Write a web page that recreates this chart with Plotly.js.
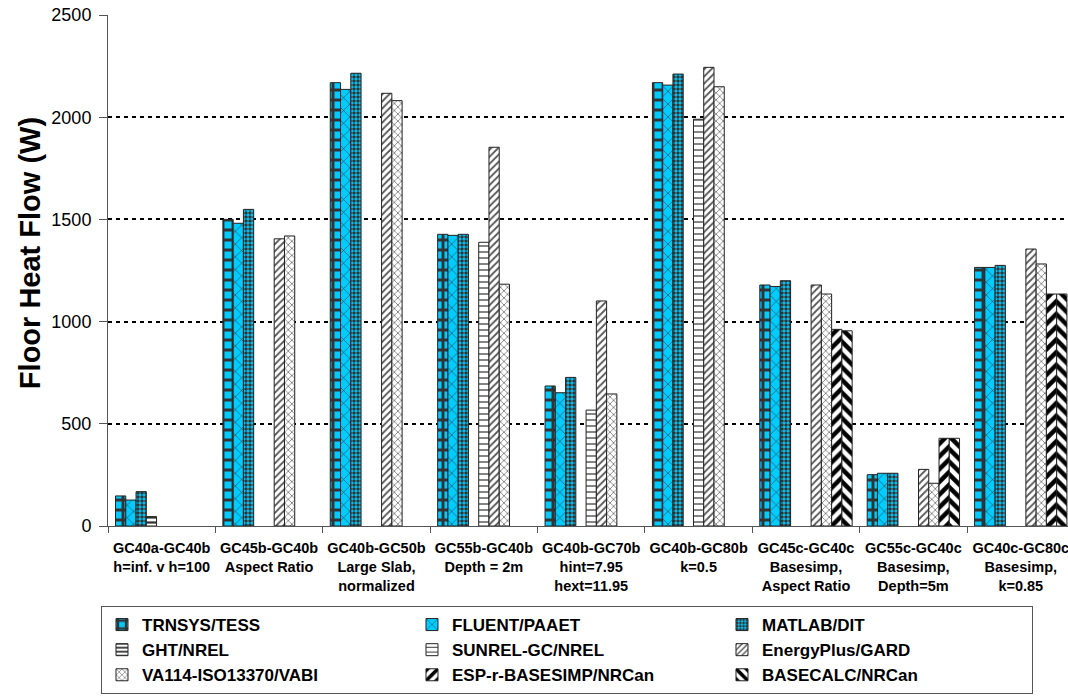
<!DOCTYPE html>
<html>
<head>
<meta charset="utf-8">
<script src="https://cdn.plot.ly/plotly-3.0.1.min.js"></script>
<style>html,body{margin:0;padding:0;background:#fff;}#chart{width:1068px;height:698px;}</style>
</head>
<body>
<div id="chart"></div>
<script>
const categories = [
  "GC40a-GC40b<br>h=inf. v h=100",
  "GC45b-GC40b<br>Aspect Ratio",
  "GC40b-GC50b<br>Large Slab,<br>normalized",
  "GC55b-GC40b<br>Depth = 2m",
  "GC40b-GC70b<br>hint=7.95<br>hext=11.95",
  "GC40b-GC80b<br>k=0.5",
  "GC45c-GC40c<br>Basesimp,<br>Aspect Ratio",
  "GC55c-GC40c<br>Basesimp,<br>Depth=5m",
  "GC40c-GC80c<br>Basesimp,<br>k=0.85"
];
const seriesNames = ["TRNSYS/TESS","FLUENT/PAAET","MATLAB/DIT","GHT/NREL","SUNREL-GC/NREL","EnergyPlus/GARD","VA114-ISO13370/VABI","ESP-r-BASESIMP/NRCan","BASECALC/NRCan"];
const trnsys     = [147, 1500, 2169, 1427, 685, 2169, 1179, 251, 1265];
const fluent     = [127, 1481, 2136, 1422, 652, 2157, 1172, 258, 1265];
const matlab     = [168, 1549, 2215, 1427, 727, 2211, 1200, 258, 1275];
const ght        = [46, null, null, null, null, null, null, null, null];
const sunrel     = [null, null, null, 1388, 567, 1990, null, null, null];
const energyplus = [null, 1405, 2117, 1853, 1101, 2244, 1179, 277, 1355];
const va114      = [null, 1419, 2081, 1183, 646, 2149, 1135, 209, 1282];
const espr       = [null, null, null, null, null, null, 962, 429, 1135];
const basecalc   = [null, null, null, null, null, null, 955, 429, 1135];
const yTicks = [0, 500, 1000, 1500, 2000, 2500];
const yTitle = "Floor Heat Flow (W)";

const cyan = "#00CCFF";
const dark = "#333333";
const styles = [
  {shape: "+", fgcolor: dark, bgcolor: cyan, size: 10, solidity: 0.5},
  {shape: "x", fgcolor: dark, bgcolor: cyan, size: 9, solidity: 0.12},
  {shape: ".", fgcolor: dark, bgcolor: cyan, size: 4, solidity: 0.6},
  {shape: "-", fgcolor: dark, bgcolor: "#ffffff", size: 5, solidity: 0.45},
  {shape: "-", fgcolor: dark, bgcolor: "#ffffff", size: 6, solidity: 0.2},
  {shape: "/", fgcolor: "#555555", bgcolor: "#ffffff", size: 5, solidity: 0.35},
  {shape: "x", fgcolor: "#777777", bgcolor: "#ffffff", size: 5, solidity: 0.3},
  {shape: "/", fgcolor: "#000000", bgcolor: "#ffffff", size: 9, solidity: 0.5},
  {shape: "\\", fgcolor: "#000000", bgcolor: "#ffffff", size: 9, solidity: 0.5}
];
const values = [trnsys, fluent, matlab, ght, sunrel, energyplus, va114, espr, basecalc];

const traces = values.map((v, i) => ({
  type: "bar",
  name: seriesNames[i],
  x: categories,
  y: v,
  marker: {
    color: styles[i].bgcolor,
    line: {color: "#222222", width: 1},
    pattern: {shape: styles[i].shape, fgcolor: styles[i].fgcolor, bgcolor: styles[i].bgcolor,
              size: styles[i].size, solidity: styles[i].solidity, fillmode: "replace"}
  },
  hoverinfo: "name+y"
}));

const layout = {
  width: 1068, height: 698,
  margin: {l: 108, r: 0, t: 15, b: 172},
  paper_bgcolor: "#ffffff", plot_bgcolor: "#ffffff",
  barmode: "group", bargap: 0.14, bargroupgap: 0,
  font: {family: "Liberation Sans, Arial, sans-serif", color: "#000000"},
  xaxis: {
    type: "category",
    range: [-0.5, 8.44],
    tickson: "boundaries",
    ticks: "outside", ticklen: 6, tickcolor: "#555555",
    showline: true, linecolor: "#555555", linewidth: 1,
    showgrid: false,
    tickfont: {size: 14.5, weight: "bold"},
    tickangle: 0,
    ticklabelstandoff: 9,
    automargin: false
  },
  yaxis: {
    range: [0, 2500],
    tickvals: yTicks,
    ticks: "outside", ticklen: 8, tickcolor: "#555555",
    showline: true, linecolor: "#555555", linewidth: 1,
    showgrid: true, gridcolor: "#000000", gridwidth: 2, griddash: "4px,4px",
    zeroline: false,
    tickfont: {size: 18},
    ticklabelstandoff: 4,
    automargin: false
  },
  annotations: [{
    text: yTitle, textangle: -90, showarrow: false,
    xref: "paper", yref: "paper", x: -0.08125, y: 0.534,
    xanchor: "center", yanchor: "middle",
    font: {size: 29, weight: "bold"}
  }],
  showlegend: true,
  legend: {
    orientation: "h",
    x: -0.0073, xanchor: "left",
    y: -0.1566, yanchor: "top",
    traceorder: "normal",
    bordercolor: "#555555", borderwidth: 1, bgcolor: "#ffffff",
    font: {size: 17, weight: "bold"},
    entrywidth: 265, entrywidthmode: "pixels",
    itemwidth: 30,
    tracegroupgap: 0
  }
};

Plotly.newPlot("chart", traces, layout, {displayModeBar: false, responsive: false});
</script>
</body>
</html>
